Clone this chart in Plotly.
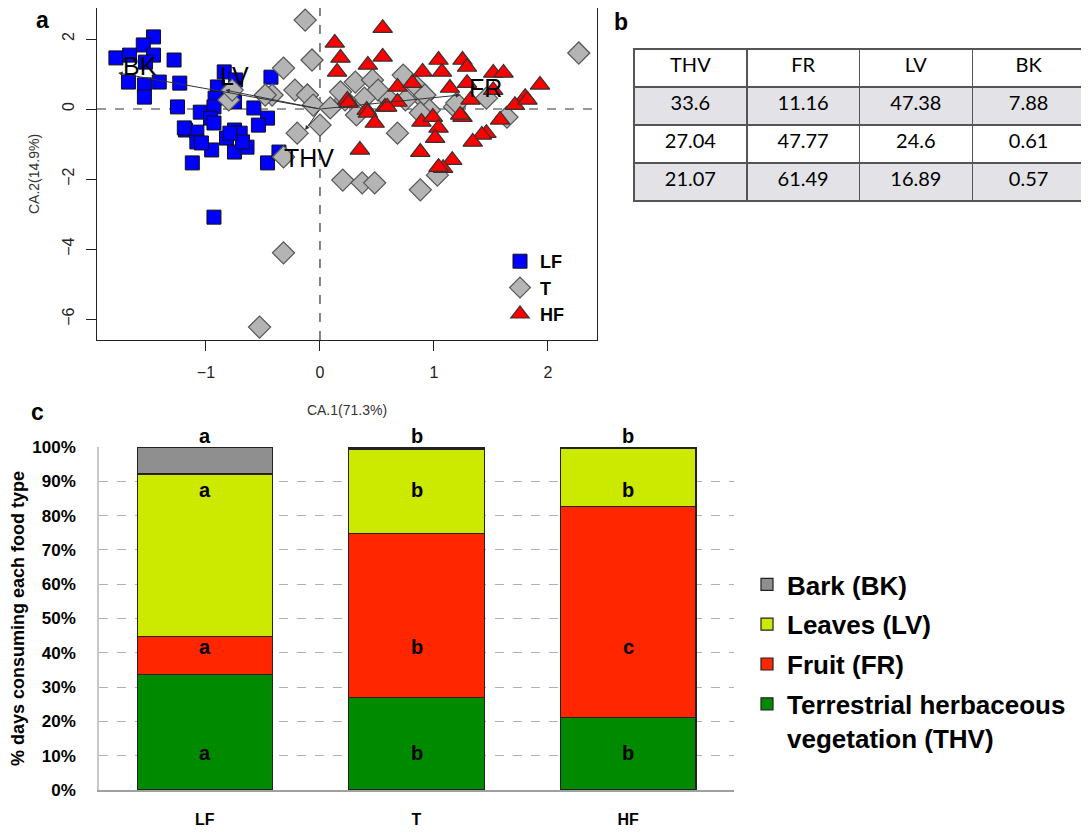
import plotly.graph_objects as go

# ---------------- Panel a: correspondence analysis scores ----------------
lf_x = [-1.46, -1.55, -1.79, -1.67, -1.46, -1.28, -1.68, -1.54, -1.41, -1.54, -1.23, -1.25,
        -0.84, -0.90, -0.92, -0.75, -0.58, -0.43, -1.05, -0.93, -0.96, -0.46, -0.54, -1.18,
        -1.08, -0.93, -0.82, -0.75, -0.70, -1.08, -0.95, -0.75, -0.64, -0.68, -1.12, -0.46,
        -0.36, -0.93, -1.19, -1.04, -0.79, -1.53, -0.74]
lf_y = [2.06, 1.83, 1.46, 1.54, 1.54, 1.40, 0.77, 0.69, 0.77, 0.34, 0.74, 0.06,
        1.06, 0.63, 0.31, 0.20, 0.03, 0.91, -0.09, 0.06, -0.26, -0.26, -0.46, -0.60,
        -0.66, -0.40, -0.83, -0.60, -0.69, -0.94, -1.17, -1.23, -1.09, -0.94, -1.54, -1.54,
        -1.23, -3.09, -0.54, -0.97, -0.69, 1.34, 0.83]

t_x = [-0.13, -0.07, -0.32, -0.42, -0.22, -0.11, -0.06, 0.31, 0.46, 0.51, 0.39, 0.73,
       0.85, 0.90, 0.75, -0.80, -0.77, -0.48, 0.00, -0.20, -0.32, 2.27, 0.92, 1.18,
       0.96, 0.20, 0.37, 0.48, 0.68, 0.88, 1.03, 0.32, 0.88, 1.20, 1.64, -0.32,
       -0.53, 0.22, 0.18, 0.61, 1.46, 0.09]
t_y = [2.54, 1.40, 1.17, 0.40, 0.54, 0.40, 0.11, 0.77, 0.83, 0.54, 0.31, 0.97,
       0.63, 0.31, 0.26, 0.26, 0.54, 0.40, -0.46, -0.69, -1.37, 1.60, 0.40, 0.06,
       -0.03, -2.03, -2.11, -2.11, -0.69, -2.31, -1.89, -0.17, -0.11, 0.17, -0.23, -4.11,
       -6.23, 0.26, 0.49, 0.26, 0.31, 0.03]

hf_x = [0.55, 0.13, 0.18, 0.15, 0.42, 0.55, 0.68, 0.81, 0.90, 0.24, 0.41, 0.57,
        0.68, 1.04, 1.25, 1.29, 1.07, 1.14, 1.29, 1.52, 1.61, 1.52, 1.93, 1.80,
        1.71, 1.32, 1.25, 1.58, 0.89, 0.25, 0.42, 0.59, 0.48, 0.99, 1.04, 1.01,
        0.88, 0.35, 1.23, 1.46, 1.42, 1.34, 1.82, 1.16, 1.08, 1.04]
hf_y = [2.31, 1.89, 1.46, 1.06, 1.26, 1.49, 0.63, 0.74, 1.06, 0.26, -0.03, 0.06,
        0.20, 1.40, 1.40, 1.20, 1.06, 0.60, 0.74, 1.03, 1.03, 0.54, 0.69, 0.34,
        0.11, 0.26, -0.23, -0.31, -0.37, 0.17, -0.11, 0.06, -0.40, -0.23, -0.54, -0.83,
        -1.23, -1.17, -0.17, -0.69, -0.74, -0.94, 0.26, -1.46, -1.69, -1.66]

vec_names = ["BK", "LV", "THV", "FR"]
vec_x = [-1.77, -0.83, -0.13, 1.23]
vec_y = [1.03, 0.54, -0.60, 0.40]
vec_lab_x = [-1.58, -0.75, -0.10, 1.45]
vec_lab_y = [1.24, 0.95, -1.40, 0.60]

# ---------------- Panel b: table ----------------
table_header = ["THV", "FR", "LV", "BK"]
table_thv = ["33.6", "27.04", "21.07"]
table_fr = ["11.16", "47.77", "61.49"]
table_lv = ["47.38", "24.6", "16.89"]
table_bk = ["7.88", "0.61", "0.57"]

# ---------------- Panel c: stacked bars ----------------
sites = ["LF", "T", "HF"]
thv = [33.6, 27.04, 21.07]
fr = [11.16, 47.77, 61.49]
lv = [47.38, 24.6, 16.89]
bk = [7.88, 0.61, 0.57]
top_letters = ["a", "b", "b"]
lv_letters = ["a", "b", "b"]
fr_letters = ["a", "b", "c"]
thv_letters = ["a", "b", "b"]
inner_levels = [87.5, 41.7, 10.8]
pct_ticks = [0, 10, 20, 30, 40, 50, 60, 70, 80, 90, 100]
pct_labels = ["%d%%" % v for v in pct_ticks]

# The page body has an 8px margin, so the figure is sized to fit the window.
OFF = 8
W, H = 1089 - OFF, 832 - OFF
FONT = "Arial, Liberation Sans, sans-serif"


def fx(px):
    return (px - OFF) / W


def fy(py):
    return 1 - (py - OFF) / H


fig = go.Figure()

# scatter traces
fig.add_trace(go.Scatter(x=lf_x, y=lf_y, mode="markers", name="LF", xaxis="x", yaxis="y",
                         marker=dict(symbol="square", size=14, color="#0000ff",
                                     line=dict(color="#111", width=1))))
fig.add_trace(go.Scatter(x=t_x, y=t_y, mode="markers", name="T", xaxis="x", yaxis="y",
                         marker=dict(symbol="diamond", size=17, color="#b4b4b4",
                                     line=dict(color="#555", width=1.2))))
fig.add_trace(go.Scatter(x=hf_x, y=hf_y, mode="markers", name="HF", xaxis="x", yaxis="y",
                         marker=dict(symbol="triangle-up", size=17, color="#ff0000",
                                     line=dict(color="#333", width=1.2))))

# biplot arrows and labels
for nm, vx, vy, lx, ly in zip(vec_names, vec_x, vec_y, vec_lab_x, vec_lab_y):
    fig.add_annotation(x=vx, y=vy, ax=0, ay=0, xref="x", yref="y", axref="x", ayref="y",
                       showarrow=True, arrowhead=2, arrowsize=0.9, arrowwidth=1,
                       arrowcolor="#333", text="")
    fig.add_annotation(x=lx, y=ly, xref="x", yref="y", text=nm, showarrow=False,
                       xanchor="center", yanchor="middle",
                       font=dict(family=FONT, size=25, color="black"))

# dashed zero lines
fig.add_shape(type="line", xref="x", yref="y domain", x0=0, x1=0, y0=0, y1=1,
              line=dict(color="#333", width=1.2, dash="dash"), layer="below")
fig.add_shape(type="line", xref="x domain", yref="y", x0=0, x1=1, y0=0, y1=0,
              line=dict(color="#333", width=1.2, dash="dash"), layer="below")

# table
row_fill = ["#e3e3e7", "white", "#e3e3e7"]
fig.add_trace(go.Table(
    domain=dict(x=[fx(634), fx(1085)], y=[fy(203), fy(49)]),
    columnwidth=[1, 1, 1, 1],
    header=dict(values=table_header, fill_color="white", line=dict(color="#555", width=1.5),
                height=38, align="center",
                font=dict(family="Lato, Open Sans, sans-serif", size=20, color="black")),
    cells=dict(values=[table_thv, table_fr, table_lv, table_bk],
               fill_color=[row_fill] * 4, line=dict(color="#555", width=1.5),
               height=38, align="center",
               font=dict(family="Lato, Open Sans, sans-serif", size=20, color="black")),
))

# stacked bars (legend shows Bark first)
bar_line = dict(color="#222", width=1.2)
for vals, nm, col, rank in [(thv, "Terrestrial herbaceous<br>vegetation (THV)", "#008a00", 4),
                            (fr, "Fruit (FR)", "#ff2600", 3),
                            (lv, "Leaves (LV)", "#cce900", 2),
                            (bk, "Bark (BK)", "#8f8f8f", 1)]:
    fig.add_trace(go.Bar(x=sites, y=vals, name=nm, xaxis="x2", yaxis="y2",
                         marker=dict(color=col, line=bar_line), legend="legend2",
                         legendgroup=nm, legendrank=rank))

# letters above the bars
for s, l in zip(sites, top_letters):
    fig.add_annotation(x=s, y=100, xref="x2", yref="y2", text="<b>%s</b>" % l,
                       showarrow=False, xanchor="center", yanchor="bottom", yshift=-2,
                       font=dict(family=FONT, size=20, color="black"))
# letters inside the bars
for letters, lev in zip([lv_letters, fr_letters, thv_letters], inner_levels):
    for s, l in zip(sites, letters):
        fig.add_annotation(x=s, y=lev, xref="x2", yref="y2", text="<b>%s</b>" % l,
                           showarrow=False, xanchor="center", yanchor="middle",
                           font=dict(family=FONT, size=20, color="black"))

# panel labels
for lab, px, py in [("a", 42, 20), ("b", 621, 22), ("c", 37, 412)]:
    fig.add_annotation(x=fx(px), y=fy(py), xref="paper", yref="paper",
                       text="<b>%s</b>" % lab, showarrow=False,
                       xanchor="center", yanchor="middle",
                       font=dict(family=FONT, size=23, color="black"))

fig.update_layout(
    width=W, height=H, margin=dict(l=0, r=0, t=0, b=0, autoexpand=False),
    paper_bgcolor="white", plot_bgcolor="white", barmode="stack", bargap=0.36,
    showlegend=True,
    xaxis=dict(domain=[fx(97), fx(597)], range=[-1.956, 2.43], tickvals=[-1, 0, 1, 2],
               showgrid=False, zeroline=False, showline=True, mirror=True,
               linecolor="#222", linewidth=1.2, ticks="outside", ticklen=10,
               tickcolor="#222", ticklabelstandoff=8, automargin=False,
               tickfont=dict(family=FONT, size=16, color="#222"),
               title=dict(text="CA.1(71.3%)", standoff=24,
                          font=dict(family=FONT, size=14, color="#333"))),
    yaxis=dict(domain=[fy(340), fy(8)], range=[-6.6, 2.886],
               tickvals=[-6, -4, -2, 0, 2], tickangle=-90,
               showgrid=False, zeroline=False, showline=True, mirror=True,
               linecolor="#222", linewidth=1.2, ticks="outside", ticklen=10,
               tickcolor="#222", ticklabelstandoff=6, automargin=False,
               tickfont=dict(family=FONT, size=16, color="#222"),
               title=dict(text="CA.2(14.9%)", standoff=16,
                          font=dict(family=FONT, size=14, color="#333"))),
    xaxis2=dict(domain=[fx(99), fx(734)], showgrid=False, zeroline=False, showline=True,
                linecolor="#a0a0a0", linewidth=1.5, ticks="", ticklabelstandoff=14,
                automargin=False,
                tickfont=dict(family=FONT, size=16, color="black", weight="bold"),
                anchor="y2"),
    yaxis2=dict(domain=[fy(790), fy(447)], range=[0, 100], tickvals=pct_ticks,
                ticktext=pct_labels, showgrid=True, gridcolor="#b0b0b0", griddash="dash",
                gridwidth=1, zeroline=False, showline=True, linecolor="#c8c8c8",
                linewidth=1.5, ticks="", ticklabelstandoff=18, automargin=False,
                tickfont=dict(family=FONT, size=17, color="black", weight="bold"),
                title=dict(text="% days consuming each food type", standoff=9,
                           font=dict(family=FONT, size=18, color="black", weight="bold")),
                anchor="x2"),
    legend=dict(x=fx(500), y=fy(243), xanchor="left", yanchor="top",
                bgcolor="rgba(0,0,0,0)", itemsizing="trace",
                font=dict(family=FONT, size=18, color="black", weight="bold")),
    legend2=dict(x=fx(747), y=fy(561), xanchor="left", yanchor="top",
                 bgcolor="rgba(0,0,0,0)", traceorder="grouped",
                 tracegroupgap=3, valign="top",
                 font=dict(family=FONT, size=26, color="black", weight="bold")),
)

fig.write_html("out.html")
